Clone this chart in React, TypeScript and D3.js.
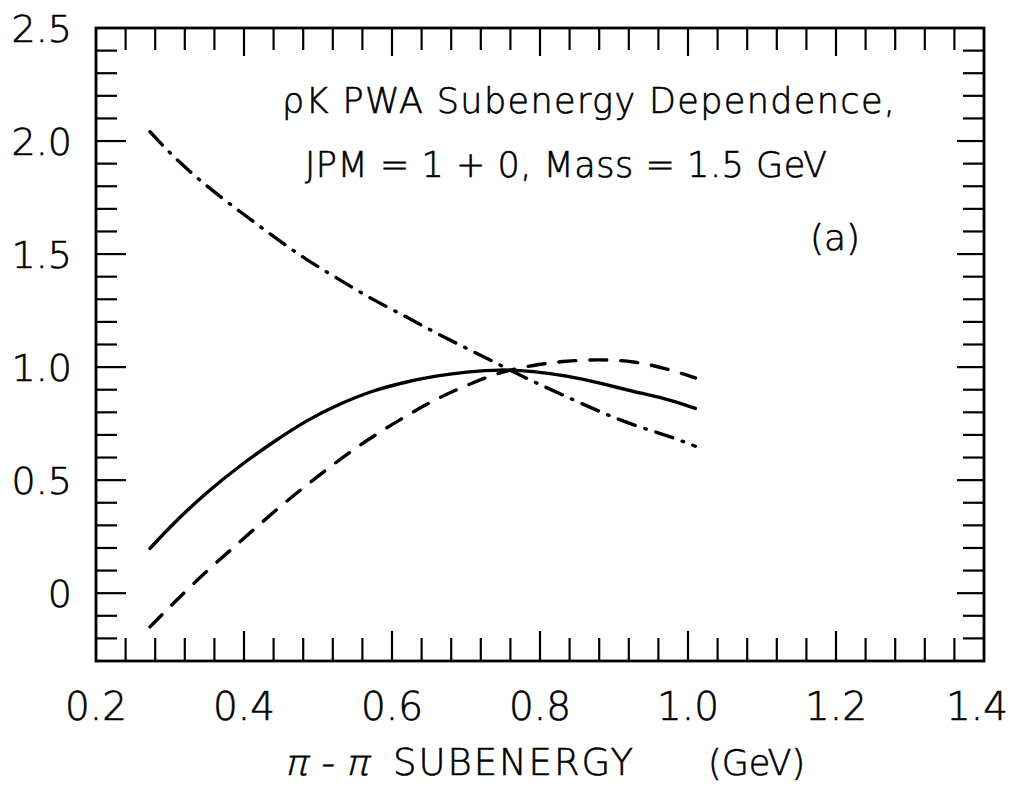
import React from "react";
import * as d3 from "d3";

const xValues = [0.273, 0.304, 0.35, 0.395, 0.44, 0.485, 0.53, 0.575, 0.62, 0.656, 0.701, 0.746, 0.791, 0.836, 0.881, 0.926, 0.971, 1.01];
const solidValues = [0.198, 0.308, 0.448, 0.566, 0.67, 0.766, 0.839, 0.898, 0.935, 0.96, 0.979, 0.99, 0.982, 0.962, 0.93, 0.892, 0.86, 0.817];
const dashedValues = [-0.149, -0.046, 0.1, 0.228, 0.36, 0.48, 0.593, 0.697, 0.785, 0.854, 0.92, 0.979, 1.009, 1.028, 1.034, 1.027, 0.994, 0.952];
const dashDotValues = [2.041, 1.931, 1.798, 1.687, 1.577, 1.473, 1.385, 1.296, 1.222, 1.156, 1.083, 1.009, 0.935, 0.869, 0.802, 0.743, 0.699, 0.65];

const xTickValues = [0.2, 0.4, 0.6, 0.8, 1.0, 1.2, 1.4];
const xTickLabels = ["0.2", "0.4", "0.6", "0.8", "1.0", "1.2", "1.4"];
const yTickValues = [0, 0.5, 1.0, 1.5, 2.0, 2.5];
const yTickLabels = ["0", "0.5", "1.0", "1.5", "2.0", "2.5"];

const titleLine1 = "ρK PWA Subenergy Dependence,";
const titleLine2 = "JPM = 1 + 0,  Mass = 1.5 GeV";
const panelLabel = "(a)";

const L = 96, R = 984, T = 28, B = 661;
const FONT = "'DejaVu Sans', sans-serif";
const FW = 200;

export default function App() {
  const x = d3.scaleLinear().domain([0.2, 1.4]).range([L, R]);
  const y = d3.scaleLinear().domain([-0.3, 2.5]).range([B, T]);

  const mk = (vals: number[]) =>
    d3
      .line<number>()
      .x((_, i) => x(xValues[i]))
      .y((v) => y(v))
      .curve(d3.curveBasis)(vals) as string;

  const xMinor = d3.range(0.24, 1.38, 0.04).filter((v) => Math.abs(Math.round(v / 0.2) * 0.2 - v) > 0.01);
  const xMajorInner = [0.4, 0.6, 0.8, 1.0, 1.2];
  const yMinor = d3.range(-0.2, 2.45, 0.1).filter((v) => Math.abs(Math.round(v / 0.5) * 0.5 - v) > 0.01);
  const yMajorInner = [0, 0.5, 1.0, 1.5, 2.0];

  const tickStyle = { stroke: "#000", strokeWidth: 2.2 };

  return (
    <svg width={1014} height={786} style={{ position: "absolute", left: 0, top: 0, background: "#fff" }}>
      <rect x={0} y={0} width={1014} height={786} fill="#fff" />
      {xMinor.map((v, i) => (
        <g key={"xm" + i}>
          <line x1={x(v)} x2={x(v)} y1={B} y2={B - 23} {...tickStyle} />
          <line x1={x(v)} x2={x(v)} y1={T} y2={T + 22} {...tickStyle} />
        </g>
      ))}
      {xMajorInner.map((v, i) => (
        <g key={"xM" + i}>
          <line x1={x(v)} x2={x(v)} y1={B} y2={B - 30} {...tickStyle} />
          <line x1={x(v)} x2={x(v)} y1={T} y2={T + 28} {...tickStyle} />
        </g>
      ))}
      {yMinor.map((v, i) => (
        <g key={"ym" + i}>
          <line x1={L} x2={L + 21} y1={y(v)} y2={y(v)} {...tickStyle} />
          <line x1={R} x2={R - 21} y1={y(v)} y2={y(v)} {...tickStyle} />
        </g>
      ))}
      {yMajorInner.map((v, i) => (
        <g key={"yM" + i}>
          <line x1={L} x2={L + 30} y1={y(v)} y2={y(v)} {...tickStyle} />
          <line x1={R} x2={R - 27} y1={y(v)} y2={y(v)} {...tickStyle} />
        </g>
      ))}
      <rect x={L} y={T} width={R - L} height={B - T} fill="none" stroke="#000" strokeWidth={2.8} />

      {xTickValues.map((v, i) => {
        const last = i === xTickValues.length - 1;
        return (
          <text
            key={"xl" + i}
            x={last ? 1008 : x(v)}
            y={720}
            textAnchor={last ? "end" : "middle"}
            fontFamily={FONT}
            fontWeight={FW}
            fontSize={39}
            fill="#000"
            stroke="#000"
            strokeWidth={0.6}
          >
            {xTickLabels[i]}
          </text>
        );
      })}
      {yTickValues.map((v, i) => (
        <text key={"yl" + i} x={72} y={y(v) + 14} textAnchor="end" fontFamily={FONT} fontWeight={FW} fontSize={38} fill="#000" stroke="#000" strokeWidth={0.6}>
          {yTickLabels[i]}
        </text>
      ))}

      <path d={mk(solidValues)} fill="none" stroke="#000" strokeWidth={3.4} strokeLinecap="round" />
      <path d={mk(dashedValues)} fill="none" stroke="#000" strokeWidth={3.4} strokeLinecap="round" strokeDasharray="17 14" />
      <path d={mk(dashDotValues)} fill="none" stroke="#000" strokeWidth={3.4} strokeLinecap="round" strokeDasharray="18 10 1.5 10" />

      <g stroke="#000" strokeWidth={0.6}>
        <text x={282} y={113} fontFamily={FONT} fontWeight={FW} fontSize={35} fill="#000" textLength={613} lengthAdjust="spacing">
          {titleLine1}
        </text>
        <text x={305} y={177} fontFamily={FONT} fontWeight={FW} fontSize={35} fill="#000" textLength={522} lengthAdjust="spacing">
          {titleLine2}
        </text>
        <text x={810} y={250} fontFamily={FONT} fontWeight={FW} fontSize={36} fill="#000">
          {panelLabel}
        </text>

        <text x={0} y={0} fontFamily={FONT} fontWeight={FW} fontSize={35} fill="#000" transform="translate(284,775) skewX(-14)" textLength={84} lengthAdjust="spacingAndGlyphs">
          π - π
        </text>
        <text x={393} y={775} fontFamily={FONT} fontWeight={FW} fontSize={37} fill="#000" textLength={240} lengthAdjust="spacing">
          SUBENERGY
        </text>
        <text x={708} y={775} fontFamily={FONT} fontWeight={FW} fontSize={35} fill="#000">
          (GeV)
        </text>
      </g>
    </svg>
  );
}
